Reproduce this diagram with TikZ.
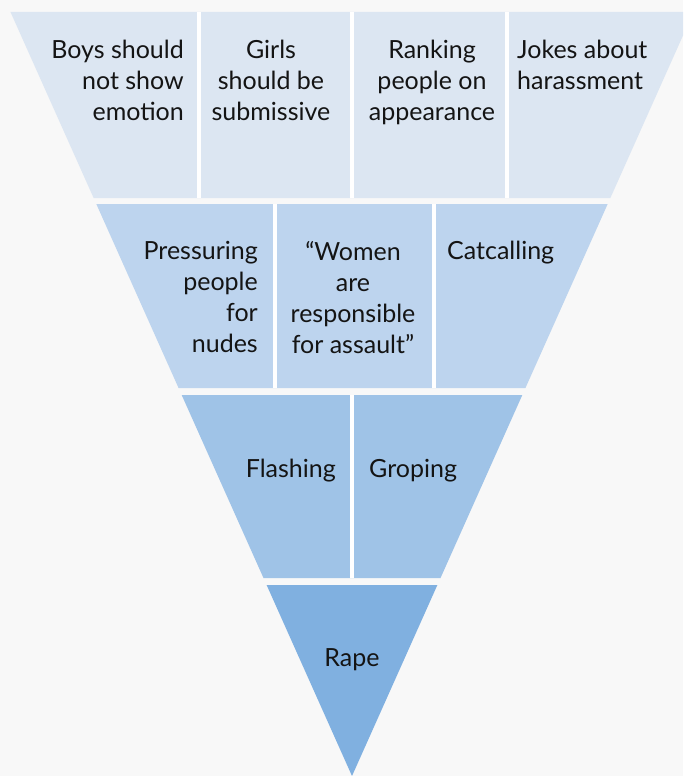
\documentclass[tikz,border=0pt]{standalone}
\usepackage{fontspec}
\setmainfont{Lato}
\definecolor{bgA}{HTML}{F8F8F8}
\definecolor{bandA}{HTML}{DCE6F2}
\definecolor{bandB}{HTML}{BDD4EE}
\definecolor{bandC}{HTML}{9FC3E7}
\definecolor{bandD}{HTML}{80B0E0}
\definecolor{inkA}{HTML}{141414}

\begin{document}
\begin{tikzpicture}[x=1pt,y=-1pt,
  lbl/.style={font=\fontsize{25}{31}\selectfont,inner sep=0pt,text=inkA},
  gapline/.style={white,line width=3.5pt}]
\def\ax{352}   % apex x
\def\ay{776}   % apex y
\def\k{0.447}  % half width per unit of height
% background
\fill[bgA] (0,0) rectangle (683,776);
\useasboundingbox (0,0) rectangle (683,776);
\clip (0,0) rectangle (683,776);
% four bands: top/bottom/colour
\foreach \t/\b/\c in {12/198/bandA,204/388/bandB,395/578/bandC,585/776/bandD}{
  \fill[\c] ({\ax-\k*(\ay-\t)},\t) -- ({\ax+\k*(\ay-\t)},\t)
    -- ({\ax+\k*(\ay-\b)},\b) -- ({\ax-\k*(\ay-\b)},\b) -- cycle;
}
% white dividers inside the bands
\foreach \xd/\t/\b in {199/12/198,352/12/198,507/12/198,275/204/388,434/204/388,352/395/578}
  \draw[gapline] (\xd,\t) -- (\xd,\b);
% band 1
\node[lbl,anchor=north east,align=right] (boys) at (184,40) {Boys should\\not show\\emotion};
\node[lbl,anchor=north,align=center] (girls) at (271,40) {Girls\\should be\\submissive};
\node[lbl,anchor=north,align=center] (rank) at (432,40) {Ranking\\people on\\appearance};
\node[lbl,anchor=north west,align=left] (jokes) at (517,40) {Jokes about\\harassment};
% band 2
\node[lbl,anchor=north east,align=right] (press) at (258,241) {Pressuring\\people\\for\\nudes};
\node[lbl,anchor=north,align=center] (women) at (353,241) {“Women\\are\\responsible\\for assault”};
\node[lbl,anchor=north west,align=left] (catc) at (447,241) {Catcalling};
% band 3
\node[lbl,anchor=north east] (flash) at (336,459) {Flashing};
\node[lbl,anchor=north west] (grope) at (369,459) {Groping};
% band 4
\node[lbl,anchor=north] (rape) at (352,648) {Rape};
\end{tikzpicture}
\end{document}
